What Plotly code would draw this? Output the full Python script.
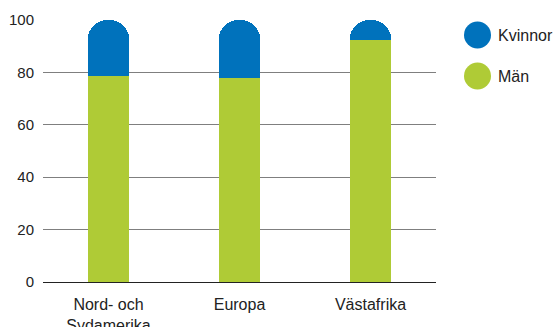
import plotly.graph_objects as go

# Data
categories = ["Nord- och<br>Sydamerika", "Europa", "Västafrika"]
man = [78.6, 77.9, 92.4]
kvinnor = [21.4, 22.1, 7.6]
y_ticks = [0, 20, 40, 60, 80, 100]

BLUE = "#0072BC"
GREEN = "#AFCB36"
FONT = "Liberation Sans, Arial, sans-serif"

fig = go.Figure()
fig.add_trace(go.Bar(x=categories, y=man, name="Män", marker_color=GREEN,
                     marker_line_width=0, showlegend=False))
fig.add_trace(go.Bar(x=categories, y=kvinnor, name="Kvinnor", marker_color=BLUE,
                     marker_line_width=0, showlegend=False))

# handmade legend with big circles (page pixels -> paper coords)
legend_items = [("Kvinnor", BLUE, 35), ("Män", GREEN, 76)]
shapes = []
annotations = []
for label, color, yc in legend_items:
    shapes.append(dict(type="circle", xref="paper", yref="paper",
                       x0=(464 - 43) / 393, x1=(491 - 43) / 393,
                       y0=(282 - yc - 13.5) / 262, y1=(282 - yc + 13.5) / 262,
                       fillcolor=color, line_width=0))
    annotations.append(dict(text=label, xref="paper", yref="paper",
                            x=(496 - 43) / 393, y=(282 - yc) / 262,
                            xanchor="left", yanchor="middle", showarrow=False,
                            font=dict(family=FONT, size=16, color="#222222")))

fig.update_layout(
    width=553, height=327,
    margin=dict(l=43, r=117, t=20, b=45),
    barmode="stack",
    bargap=0.68,
    barcornerradius=21,
    plot_bgcolor="white",
    paper_bgcolor="white",
    font=dict(family=FONT, size=16, color="#222222"),
    xaxis=dict(showgrid=False, showline=False, ticks="", automargin=False,
               tickfont=dict(size=16), ticklabelstandoff=11),
    yaxis=dict(range=[0, 100], tickvals=y_ticks, showgrid=True,
               gridcolor="#7f7f7f", gridwidth=1, zeroline=True,
               zerolinecolor="#222222", zerolinewidth=1, ticks="", automargin=False,
               tickfont=dict(size=15), ticklabelstandoff=8),
    shapes=shapes,
    annotations=annotations,
)

# drop the default body margin so the figure fills the window exactly
fig.write_html("out.html", config={"displayModeBar": False},
               post_script="document.body.style.margin='0';"
                           "document.body.style.overflow='hidden';")
